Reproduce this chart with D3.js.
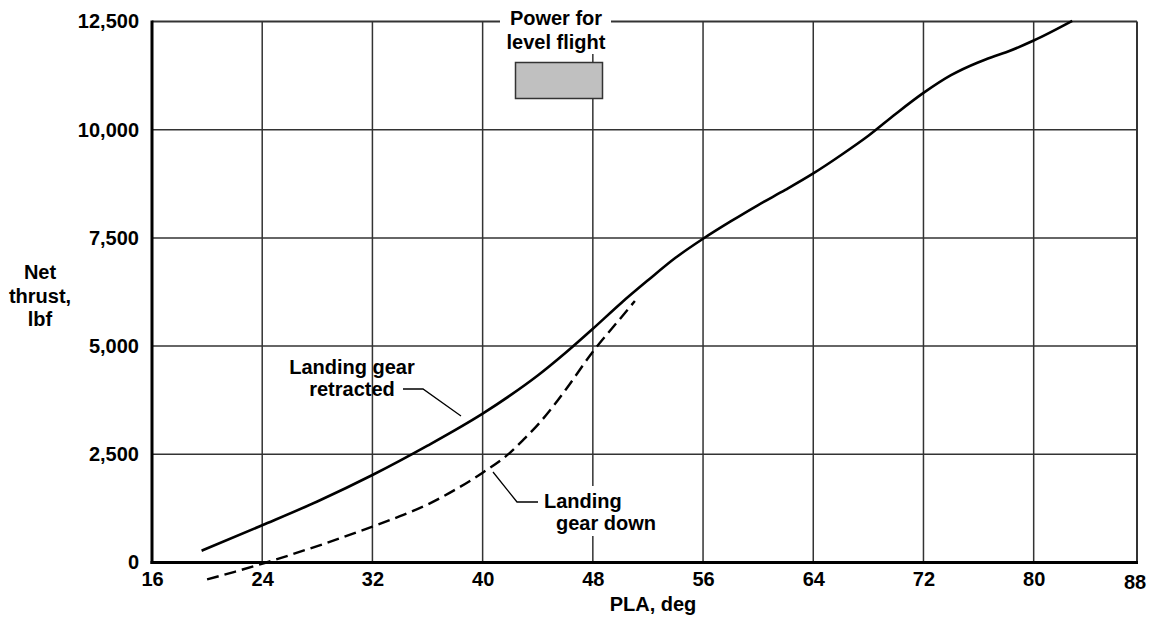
<!DOCTYPE html>
<html>
<head>
<meta charset="utf-8">
<script src="https://cdn.jsdelivr.net/npm/d3@7"></script>
<style>
  body { margin: 0; background: #fff; }
  text { font-family: "Liberation Sans", Arial, sans-serif; font-weight: bold; fill: #000; }
</style>
</head>
<body>
<script>
// chart values
var xTicks = [16, 24, 32, 40, 48, 56, 64, 72, 80];
var yTicks = [0, 2500, 5000, 7500, 10000, 12500];

// landing gear retracted (solid)
var retractedPla = [19.6, 24, 28, 32, 36, 40, 42, 44, 46, 48, 50, 52, 54, 56, 58, 60, 62, 64, 66, 68, 70, 72, 74, 76, 77, 78, 80, 82.8];
var retractedThrust = [272, 860, 1410, 2021, 2700, 3440, 3860, 4320, 4840, 5400, 5980, 6520, 7040, 7480, 7880, 8260, 8615, 8990, 9410, 9860, 10370, 10850, 11260, 11560, 11680, 11790, 12060, 12515];

// landing gear down (dashed)
var downPla = [20, 22, 24.3, 28, 32, 34, 36, 38, 40, 42, 43, 44, 45, 46, 48, 50, 51.05];
var downThrust = [-390, -215, 0, 380, 827, 1070, 1340, 1680, 2075, 2540, 2850, 3180, 3560, 3980, 4870, 5640, 6040];

var svg = d3.select("body").append("svg").attr("width", 1154).attr("height", 617);

var x = d3.scaleLinear().domain([16, 87.5]).range([152, 1137]);
var y = d3.scaleLinear().domain([0, 12500]).range([562.5, 21.5]);

// grid
svg.append("g").selectAll("line")
    .data(xTicks.slice(1))
    .enter().append("line")
    .attr("x1", function(d) { return x(d); })
    .attr("x2", function(d) { return x(d); })
    .attr("y1", y(0)).attr("y2", y(12500))
    .attr("stroke", "#333").attr("stroke-width", 1.5);

svg.append("g").selectAll("line")
    .data(yTicks.slice(1, -1))
    .enter().append("line")
    .attr("y1", function(d) { return y(d); })
    .attr("y2", function(d) { return y(d); })
    .attr("x1", x(16)).attr("x2", x(87.5))
    .attr("stroke", "#333").attr("stroke-width", 1.5);

// frame: top and right thinner
svg.append("line").attr("x1", x(16)).attr("x2", x(87.5)).attr("y1", y(12500)).attr("y2", y(12500))
    .attr("stroke", "#333").attr("stroke-width", 2);
svg.append("line").attr("x1", x(87.5)).attr("x2", x(87.5)).attr("y1", y(12500)).attr("y2", y(0))
    .attr("stroke", "#333").attr("stroke-width", 2);

// curves
var retractedLine = d3.line()
    .x(function(d, i) { return x(retractedPla[i]); })
    .y(function(d) { return y(d); })
    .curve(d3.curveMonotoneX);
svg.append("path")
    .attr("d", retractedLine(retractedThrust))
    .attr("fill", "none").attr("stroke", "#000").attr("stroke-width", 2.6);

var downLine = d3.line()
    .x(function(d, i) { return x(downPla[i]); })
    .y(function(d) { return y(d); })
    .curve(d3.curveMonotoneX);
svg.append("path")
    .attr("d", downLine(downThrust))
    .attr("fill", "none").attr("stroke", "#000").attr("stroke-width", 2.4)
    .attr("stroke-dasharray", "12,6");

// left and bottom axis lines (thick)
svg.append("line").attr("x1", x(16)).attr("x2", x(16)).attr("y1", y(12500) - 1).attr("y2", y(0) + 1.5)
    .attr("stroke", "#000").attr("stroke-width", 3);
svg.append("line").attr("x1", x(16) - 1.5).attr("x2", x(87.5) + 1).attr("y1", y(0)).attr("y2", y(0))
    .attr("stroke", "#000").attr("stroke-width", 3);

// axes
var yAxis = svg.append("g")
    .attr("transform", "translate(" + x(16) + ",0)")
    .call(d3.axisLeft(y).tickValues(yTicks).tickSize(0).tickPadding(13).tickFormat(d3.format(",")));
yAxis.select(".domain").remove();
yAxis.selectAll("text").style("font-size", "20px");

var xAxis = svg.append("g")
    .attr("transform", "translate(0," + y(0) + ")")
    .call(d3.axisBottom(x).tickValues(xTicks).tickSize(0).tickPadding(9));
xAxis.select(".domain").remove();
xAxis.selectAll("text").style("font-size", "20px");

// last tick label sits at the frame, a bit lower
svg.append("text")
    .attr("x", x(87.5) - 2).attr("y", 589)
    .attr("text-anchor", "middle").style("font-size", "20px")
    .text("88");

// axis titles
svg.append("text")
    .attr("x", 653).attr("y", 611)
    .attr("text-anchor", "middle").style("font-size", "20px")
    .text("PLA, deg");

var yTitle = ["Net", "thrust,", "lbf"];
svg.append("g").selectAll("text")
    .data(yTitle)
    .enter().append("text")
    .attr("x", 40)
    .attr("y", function(d, i) { return 279 + i * 23.5; })
    .attr("text-anchor", "middle").style("font-size", "20px")
    .text(function(d) { return d; });

// "Power for level flight" label with its gray box
svg.append("rect").attr("x", 500).attr("y", 15).attr("width", 111).attr("height", 39).attr("fill", "#fff");
svg.append("text").attr("x", 556).attr("y", 25).attr("text-anchor", "middle").style("font-size", "20px").text("Power for");
svg.append("text").attr("x", 556).attr("y", 49).attr("text-anchor", "middle").style("font-size", "20px").text("level flight");
svg.append("rect")
    .attr("x", 515.5).attr("y", 62.5).attr("width", 87).attr("height", 36)
    .attr("fill", "#c0c0c0").attr("stroke", "#333").attr("stroke-width", 1.5);

// "Landing gear retracted"
svg.append("text").attr("x", 352).attr("y", 374).attr("text-anchor", "middle").style("font-size", "20px").text("Landing gear");
svg.append("text").attr("x", 352).attr("y", 396).attr("text-anchor", "middle").style("font-size", "20px").text("retracted");
svg.append("path")
    .attr("d", "M403,389 L423,389 L461,416")
    .attr("fill", "none").attr("stroke", "#000").attr("stroke-width", 1.3);

// "Landing gear down"
svg.append("rect").attr("x", 541).attr("y", 486).attr("width", 120).attr("height", 50).attr("fill", "#fff");
svg.append("text").attr("x", 544).attr("y", 508).style("font-size", "20px").text("Landing");
svg.append("text").attr("x", 556).attr("y", 530).style("font-size", "20px").text("gear down");
svg.append("path")
    .attr("d", "M493,472 L517,502 L538,502")
    .attr("fill", "none").attr("stroke", "#000").attr("stroke-width", 1.3);
</script>
</body>
</html>
